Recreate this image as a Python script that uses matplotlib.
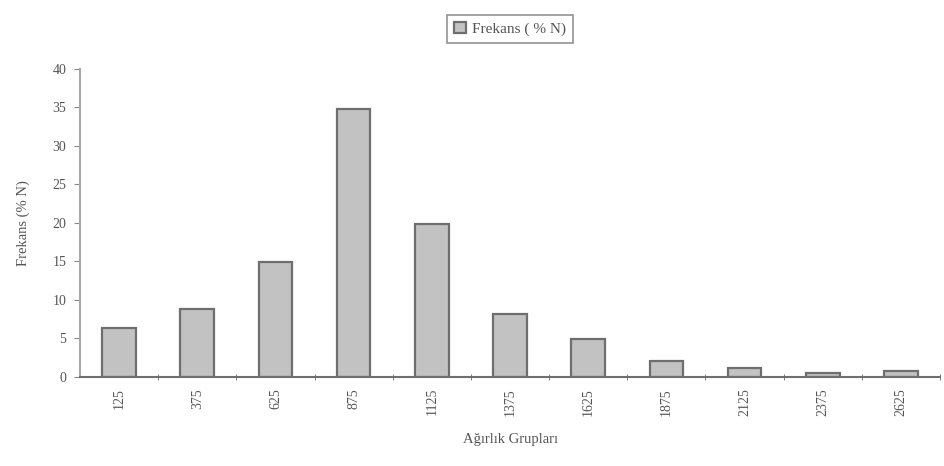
import numpy as np
import matplotlib
matplotlib.use('Agg')
import matplotlib.pyplot as plt
from matplotlib.ticker import FixedLocator

plt.rcParams['font.family'] = ['Liberation Serif', 'DejaVu Serif']

groups = ['125', '375', '625', '875', '1125', '1375', '1625', '1875', '2125', '2375', '2625']
frekans = [6.3, 8.8, 14.9, 34.8, 19.9, 8.2, 4.9, 2.1, 1.2, 0.5, 0.8]

fig = plt.figure(figsize=(9.45, 4.66), dpi=100)
ax = fig.add_axes([0.0847, 0.191, 0.91, 0.661])

x = np.arange(len(groups))
ax.bar(x, frekans, width=0.43, color='#c2c2c2', edgecolor='#6e6e6e',
       linewidth=1.6, label='Frekans ( % N)')

ax.set_xlim(-0.5, len(groups) - 0.5)
ax.set_ylim(0, 40)
ax.set_yticks(np.arange(0, 41, 5))
ax.set_xticks(x)
ax.set_xticklabels(groups, rotation=90, fontsize=10, color='#555555')
ax.xaxis.set_minor_locator(FixedLocator(np.arange(0.5, len(groups), 1)))
ax.tick_params(axis='x', which='major', length=0, pad=8)
ax.tick_params(axis='x', which='minor', length=4, direction='inout', color='#666666')
ax.tick_params(axis='y', length=4, direction='out', color='#888888', labelsize=10,
               labelcolor='#555555', pad=6)

for side in ['top', 'right']:
    ax.spines[side].set_visible(False)
ax.spines['left'].set_color('#a8a8a8')
ax.spines['left'].set_linewidth(1.5)
ax.spines['bottom'].set_color('#6e6e6e')
ax.spines['bottom'].set_linewidth(1.5)

ax.set_xlabel('Ağırlık Grupları', fontsize=10.5, color='#555555', labelpad=12)
ax.set_ylabel('Frekans (% N)', fontsize=10.5, color='#555555', labelpad=16)

leg = fig.legend(loc='upper center', bbox_to_anchor=(0.54, 0.985), fontsize=11,
                 frameon=True, fancybox=False, handlelength=0.8, handleheight=0.8,
                 handletextpad=0.4, borderpad=0.45)
leg.get_frame().set_edgecolor('#777777')
leg.get_frame().set_linewidth(1.2)
for t in leg.get_texts():
    t.set_color('#555555')

fig.savefig('out.png', dpi=100)
